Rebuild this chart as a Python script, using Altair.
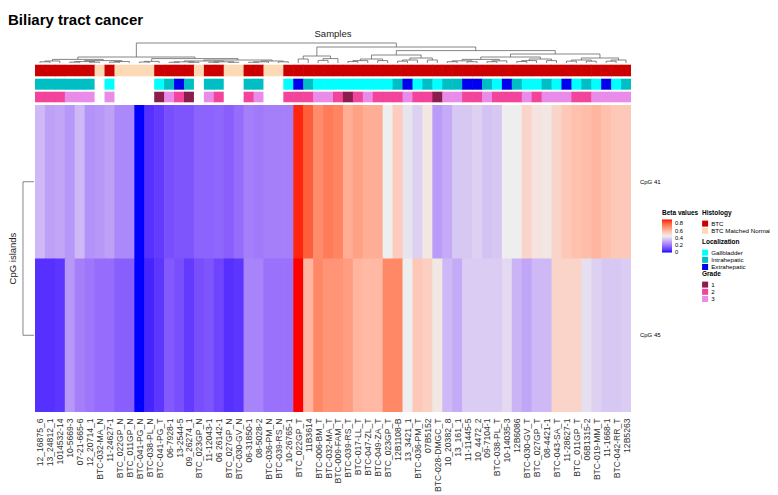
import altair as alt
import pandas as pd

# ---------------- data ----------------
samples = ["12_16875_6", "13_24812_1", "1014532-14", "10-5669-3", "07-21-665-6", "12_20714_1",
           "BTC-032-MA_N", "11-24627-1", "BTC_022GP_N", "BTC_011GP_N", "BTC-041-PG_N", "BTC-038-PL_N",
           "BTC-041-PG_T", "06-7928-1", "13-2544-5", "09_26274_1", "BTC_023GP_N", "11-12043-1",
           "06 26142-1", "BTC_027GP_N", "BTC-030-GV_N", "06-31850-1", "08-5028-2", "BTC-036-PM_N",
           "BTC-039-RS_N", "10-26765-1", "BTC_022GP_T", "11B3614", "BTC-006-BM_T", "BTC-032-MA_T",
           "BTC-009-FAM_T", "BTC-039-RS_T", "BTC-017-LL_T", "BTC-047-ZL_T", "BTC-049-ZA_T", "BTC_023GP_T",
           "12B1108-B", "13_3421_1", "BTC-036-PM_T", "07B5152", "BTC-028-DMGC_T", "10_20382_8",
           "13_161_1", "11-11445-5", "10_4472_2", "09-7104-1", "BTC-038-PL_T", "10-14035-3",
           "12B6086", "BTC-030-GV_T", "BTC_027GP_T", "08-4421-1", "BTC-043-SA_T", "11-28627-1",
           "BTC_011GP_T", "06B1315-2", "BTC-019-MM_T", "11-1668-1", "BTC-042-RR_T", "12B5263"]

cpg41 = [0.34, 0.29, 0.30, 0.27, 0.34, 0.26, 0.27, 0.29, 0.24, 0.24,
         0.00, 0.06, 0.08, 0.12, 0.13, 0.13, 0.16, 0.16, 0.17, 0.15,
         0.18, 0.22, 0.21, 0.22, 0.22, 0.22, 0.88, 0.80, 0.70, 0.74,
         0.72, 0.62, 0.65, 0.62, 0.62, 0.45, 0.54, 0.43, 0.39, 0.47,
         0.28, 0.31, 0.37, 0.37, 0.39, 0.36, 0.37, 0.45, 0.45, 0.52,
         0.48, 0.47, 0.52, 0.55, 0.57, 0.58, 0.60, 0.57, 0.55, 0.55]

cpg45 = [0.06, 0.06, 0.07, 0.27, 0.22, 0.20, 0.18, 0.18, 0.15, 0.15,
         0.00, 0.04, 0.07, 0.14, 0.12, 0.08, 0.12, 0.13, 0.10, 0.06,
         0.07, 0.23, 0.23, 0.19, 0.19, 0.19, 0.90, 0.60, 0.71, 0.68,
         0.68, 0.66, 0.60, 0.59, 0.59, 0.71, 0.71, 0.45, 0.55, 0.53,
         0.47, 0.34, 0.31, 0.38, 0.38, 0.38, 0.38, 0.41, 0.33, 0.30,
         0.34, 0.34, 0.52, 0.52, 0.52, 0.42, 0.39, 0.37, 0.37, 0.38]

T, NM = "BTC", "BTC Matched Normal"
histology = [T, T, T, T, T, T, NM, T, NM, NM, NM, NM, T, T, T, T, NM, T, T, NM,
             NM, T, T, NM, NM, T, T, T, T, T, T, T, T, T, T, T, T, T, T, T,
             T, T, T, T, T, T, T, T, T, T, T, T, T, T, T, T, T, T, T, T]

G, I, E = "Gallbladder", "Intrahepatic", "Extrahepatic"
localization = [I, I, I, I, I, I, None, G, None, None, None, None, G, I, E, I, None, I, I, None,
                None, I, I, None, None, G, E, I, G, G, G, G, G, G, G, G, I, E, G, I,
                G, I, I, E, E, I, G, E, I, G, G, I, G, E, G, I, G, E, G, I]

grade = ["2", "2", "2", "3", "3", "3", None, "3", None, None, None, None, "1", "3", "2", "1", None, "3", "2", None,
         None, "2", "3", None, None, "2", "2", "2", "3", "3", "2", "1", "2", "3", "2", "2", "2", "3", "2", "2",
         "1", "3", "3", "2", "2", "3", "2", "2", "2", "3", "2", "3", "3", "3", "2", "2", "3", "3", "3", "3"]

rows = ["CpG 41", "CpG 45"]
beta_ticks = [0.012, 0.2, 0.4, 0.6, 0.8]   # first tick sits just above 0 and is labelled "0"

# column dendrogram: (height, left, right); leaves are 1-based column numbers
def span(a, b, h):
    if a == b:
        return a
    m = (a + b) // 2
    return (h, span(a, m, h * 0.6), span(m + 1, b, h * 0.6))

tree = (1.0,
        (0.30,
         (0.18, span(1, 3, 0.10), span(4, 10, 0.12)),
         (0.22, span(11, 13, 0.08), (0.15, span(14, 21, 0.10), span(22, 26, 0.10)))),
        (0.80,
         (0.35, span(27, 28, 0.20), span(29, 31, 0.22)),
         (0.62,
          (0.40, span(32, 36, 0.20), span(37, 41, 0.25)),
          (0.45, (0.30, span(42, 48, 0.18), span(49, 53, 0.20)), span(54, 60, 0.25)))))

# ---------------- layout (plot-area px offsets from top) ----------------
W, H = 596, 373
N = len(samples)
assert N == 60 and len(cpg41) == N and len(cpg45) == N
DEND_LEAF, DEND_SPAN = 23, 20
TRACKS = {"hist": (24.7, 36.3), "loc": (38.7, 49.7), "grade": (51.7, 62.3)}
HEAT_TOP, HEAT_BOT = 65, 372
ROW_H = (HEAT_BOT - HEAT_TOP) / 2
FONT = "Liberation Sans"
OVER = 0.06  # small overlap between adjacent cells to avoid anti-aliasing seams

xscale = alt.Scale(domain=[0, N], nice=False, zero=False)
yscale = alt.Scale(domain=[0, H], nice=False, zero=False, reverse=True)
label_array = "[" + ",".join('"%s"' % s for s in samples) + "]"
xaxis = alt.Axis(values=[i + 0.5 for i in range(N)], labelExpr=label_array + "[floor(datum.value)]",
                 labelAngle=270, labelFontSize=8.6, labelFont=FONT, labelColor="#333",
                 labelPadding=5, domain=False, ticks=False, grid=False, title=None,
                 labelOverlap=False, labelBound=False, labelFlush=False)

def X(f):
    return alt.X(f + ":Q", scale=xscale, axis=xaxis)

def Y(f):
    return alt.Y(f + ":Q", scale=yscale, axis=None)

# heatmap
heat = []
for r, vals in enumerate([cpg41, cpg45]):
    for i, v in enumerate(vals):
        heat.append({"x": i, "x2": i + 1 + (OVER if i < N - 1 else 0),
                     "y": HEAT_TOP + r * ROW_H, "y2": HEAT_TOP + (r + 1) * ROW_H + (0.5 if r == 0 else 0),
                     "beta": v, "sample": samples[i], "row": rows[r]})
heat_df = pd.DataFrame(heat)

beta_scale = alt.Scale(domain=[0, 0.45, 0.9], range=["#0000FF", "#EEEEEE", "#FF0000"], interpolate="lab")
leg_common = dict(orient="none", labelFontSize=6.2, titleFontSize=6.5, titleFont=FONT, labelFont=FONT,
                  titleFontWeight="bold", labelOffset=3, titleColor="#000", labelColor="#000")

heat_layer = alt.Chart(heat_df).mark_rect(strokeWidth=0).encode(
    x=X("x"), x2="x2", y=Y("y"), y2="y2",
    color=alt.Color("beta:Q", scale=beta_scale,
                    legend=alt.Legend(title="Beta values", type="gradient", legendX=627, legendY=170,
                                      direction="vertical", gradientLength=33, gradientThickness=10,
                                      values=beta_ticks, labelExpr="datum.value < 0.05 ? '0' : format(datum.value, '~g')",
                                      labelOverlap=False, gradientStrokeWidth=0, titlePadding=3,
                                      **{**leg_common, "labelFontSize": 5.8})),
)

def track(values, key, field, domain, colors, title, ly):
    recs = []
    y0, y1 = TRACKS[key]
    for i, v in enumerate(values):
        if v is not None:
            nxt = values[i + 1] if i < N - 1 else None
            recs.append({"x": i, "x2": i + 1 + (OVER if nxt is not None else 0), "y": y0, "y2": y1,
                         field: v, "sample": samples[i]})
    return alt.Chart(pd.DataFrame(recs)).mark_rect(strokeWidth=0).encode(
        x=X("x"), x2="x2", y=Y("y"), y2="y2",
        color=alt.Color(field + ":N", scale=alt.Scale(domain=domain, range=colors),
                        legend=alt.Legend(title=title, legendX=667, legendY=ly, symbolType="square",
                                          symbolSize=36, symbolStrokeWidth=0, rowPadding=0.2,
                                          titlePadding=4, **leg_common)),
    )

hist_layer = track(histology, "hist", "Histology", [T, NM], ["#CC0000", "#FDD9B5"], "Histology", 170)
loc_layer = track(localization, "loc", "Localization", [G, I, E], ["#00FFFF", "#00BFC4", "#0000EE"],
                  "Localization", 199)
grade_layer = track(grade, "grade", "Grade", ["1", "2", "3"], ["#8B1C4B", "#F2449A", "#E98BE9"], "Grade", 231)

# column dendrogram segments
segs = []

def walk(node):
    if isinstance(node, int):
        return node - 0.5, 0.0
    h, l, r = node
    xl, hl = walk(l)
    xr, hr = walk(r)
    y = DEND_LEAF - DEND_SPAN * h
    segs.append({"x": xl, "x2": xr, "y": y, "y2": y})
    segs.append({"x": xl, "x2": xl, "y": DEND_LEAF - DEND_SPAN * hl, "y2": y})
    segs.append({"x": xr, "x2": xr, "y": DEND_LEAF - DEND_SPAN * hr, "y2": y})
    return (xl + xr) / 2, h

walk(tree)
# row dendrogram (two rows joined on the left)
rc1 = HEAT_TOP + ROW_H / 2
rc2 = HEAT_TOP + ROW_H * 1.5
segs += [{"x": -1.21, "x2": -1.21, "y": rc1, "y2": rc2},
         {"x": -1.21, "x2": -0.1, "y": rc1, "y2": rc1},
         {"x": -1.21, "x2": -0.1, "y": rc2, "y2": rc2}]
dend_layer = alt.Chart(pd.DataFrame(segs)).mark_rule(color="#666", strokeWidth=0.8).encode(
    x=X("x"), x2="x2", y=Y("y"), y2="y2")

# texts
row_lab = pd.DataFrame({"x": [N + 0.9] * 2, "y": [rc1, rc2], "t": rows})
row_text = alt.Chart(row_lab).mark_text(align="left", baseline="middle", fontSize=6, font=FONT,
                                        color="#000").encode(x=X("x"), y=Y("y"), text="t:N")
samples_title = alt.Chart(pd.DataFrame({"x": [N / 2], "y": [-6], "t": ["Samples"]})).mark_text(
    align="center", baseline="middle", fontSize=9.5, font=FONT, color="#222").encode(
    x=X("x"), y=Y("y"), text="t:N")
cpg_title = alt.Chart(pd.DataFrame({"x": [-2.2], "y": [(rc1 + rc2) / 2], "t": ["CpG islands"]})).mark_text(
    align="center", baseline="middle", fontSize=9.5, font=FONT, angle=270, color="#222").encode(
    x=X("x"), y=Y("y"), text="t:N")

chart = alt.layer(heat_layer, hist_layer, loc_layer, grade_layer, dend_layer, row_text,
                  samples_title, cpg_title).resolve_scale(color="independent").properties(
    width=W, height=H,
    autosize=alt.AutoSizeParams(type="none"),
    padding={"left": 27, "top": 32, "right": 139, "bottom": 80},
    title=alt.TitleParams("Biliary tract cancer", anchor="start", frame="group", fontSize=15,
                          font=FONT, fontWeight="bold", color="#000", dx=-27, offset=1),
).configure_view(stroke=None)

chart.save("out.html", embed_options={"renderer": "svg", "actions": False})
